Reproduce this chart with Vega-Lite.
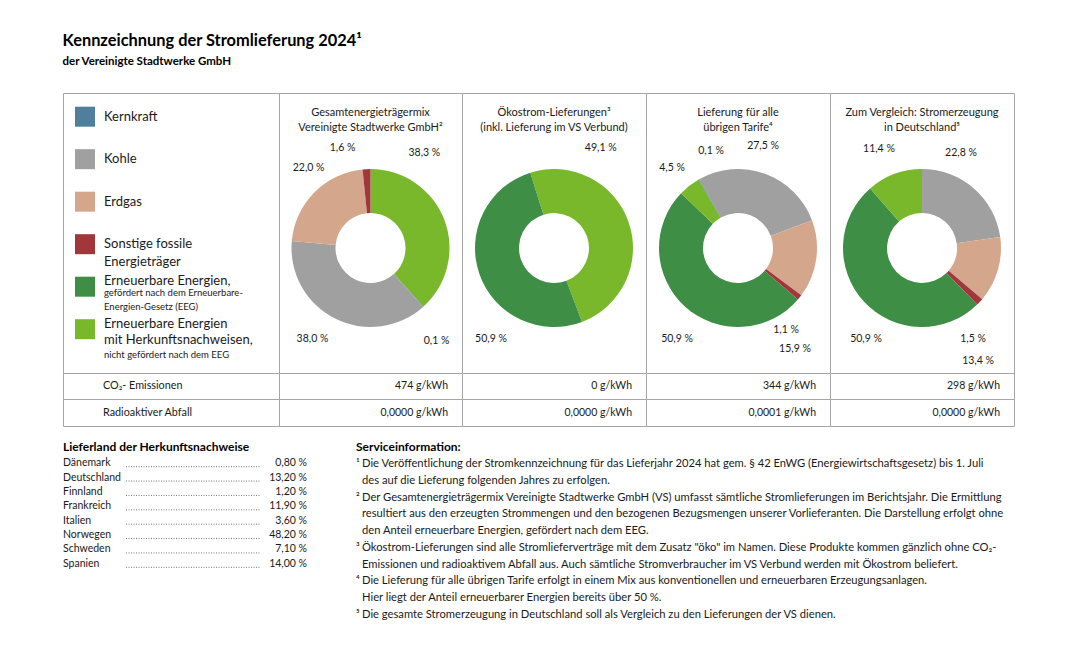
{
  "$schema": "https://vega.github.io/schema/vega-lite/v6.json",
  "background": "white",
  "padding": {"left": 62, "top": 32, "right": 10, "bottom": 10},
  "title": {"text": "Kennzeichnung der Stromlieferung 2024¹", "subtitle": "der Vereinigte Stadtwerke GmbH", "anchor": "start", "fontSize": 16.4, "fontWeight": "bold", "subtitleFontSize": 11.5, "subtitleFontWeight": "bold", "subtitleColor": "#000000", "subtitlePadding": 7, "offset": 25, "color": "#000000"},
  "datasets": {
    "mix": [
      {"spalte": "c1", "cat": "HKN", "anteil": 0.383},
      {"spalte": "c1", "cat": "Kernkraft", "anteil": 0.001},
      {"spalte": "c1", "cat": "Kohle", "anteil": 0.38},
      {"spalte": "c1", "cat": "Erdgas", "anteil": 0.22},
      {"spalte": "c1", "cat": "Sonstige", "anteil": 0.016},
      {"spalte": "c2", "cat": "HKN", "anteil": 0.491},
      {"spalte": "c2", "cat": "EEG", "anteil": 0.509},
      {"spalte": "c3", "cat": "Kohle", "anteil": 0.275},
      {"spalte": "c3", "cat": "Erdgas", "anteil": 0.159},
      {"spalte": "c3", "cat": "Sonstige", "anteil": 0.011},
      {"spalte": "c3", "cat": "EEG", "anteil": 0.509},
      {"spalte": "c3", "cat": "HKN", "anteil": 0.045},
      {"spalte": "c3", "cat": "Kernkraft", "anteil": 0.001},
      {"spalte": "c4", "cat": "Kohle", "anteil": 0.228},
      {"spalte": "c4", "cat": "Erdgas", "anteil": 0.134},
      {"spalte": "c4", "cat": "Sonstige", "anteil": 0.015},
      {"spalte": "c4", "cat": "EEG", "anteil": 0.509},
      {"spalte": "c4", "cat": "HKN", "anteil": 0.114}
    ],
    "kennzahlen": [
      {"spalte": "c1", "co2": 474, "abfall": 0},
      {"spalte": "c2", "co2": 0, "abfall": 0},
      {"spalte": "c3", "co2": 344, "abfall": 0.0001},
      {"spalte": "c4", "co2": 298, "abfall": 0}
    ],
    "legende": [
      {"cat": "Kernkraft", "main": ["Kernkraft"]},
      {"cat": "Kohle", "main": ["Kohle"]},
      {"cat": "Erdgas", "main": ["Erdgas"]},
      {"cat": "Sonstige", "main": ["Sonstige fossile", "Energieträger"]},
      {"cat": "EEG", "main": ["Erneuerbare Energien,"], "sub": ["gefördert nach dem Erneuerbare-", "Energien-Gesetz (EEG)"]},
      {"cat": "HKN", "main": ["Erneuerbare Energien", "mit Herkunftsnachweisen,"], "sub": ["nicht gefördert nach dem EEG"]}
    ],
    "lieferland": [
      {"land": "Dänemark", "anteil": 0.008},
      {"land": "Deutschland", "anteil": 0.132},
      {"land": "Finnland", "anteil": 0.012},
      {"land": "Frankreich", "anteil": 0.119},
      {"land": "Italien", "anteil": 0.036},
      {"land": "Norwegen", "anteil": 0.482},
      {"land": "Schweden", "anteil": 0.071},
      {"land": "Spanien", "anteil": 0.14}
    ],
    "hinweise": [
      {"nr": "¹", "zeile": "Die Veröffentlichung der Stromkennzeichnung für das Lieferjahr 2024 hat gem. § 42 EnWG (Energiewirtschaftsgesetz) bis 1. Juli"},
      {"nr": "", "zeile": "des auf die Lieferung folgenden Jahres zu erfolgen."},
      {"nr": "²", "zeile": "Der Gesamtenergieträgermix Vereinigte Stadtwerke GmbH (VS) umfasst sämtliche Stromlieferungen im Berichtsjahr. Die Ermittlung"},
      {"nr": "", "zeile": "resultiert aus den erzeugten Strommengen und den bezogenen Bezugsmengen unserer Vorlieferanten. Die Darstellung erfolgt ohne"},
      {"nr": "", "zeile": "den Anteil erneuerbare Energien, gefördert nach dem EEG."},
      {"nr": "³", "zeile": "Ökostrom-Lieferungen sind alle Stromlieferverträge mit dem Zusatz \"öko\" im Namen. Diese Produkte kommen gänzlich ohne CO₂-"},
      {"nr": "", "zeile": "Emissionen und radioaktivem Abfall aus.  Auch sämtliche Stromverbraucher im VS Verbund werden mit Ökostrom beliefert."},
      {"nr": "⁴", "zeile": "Die Lieferung für alle übrigen Tarife erfolgt in einem Mix aus konventionellen und erneuerbaren Erzeugungsanlagen."},
      {"nr": "", "zeile": "Hier liegt der Anteil erneuerbarer Energien bereits über 50 %."},
      {"nr": "⁵", "zeile": "Die gesamte Stromerzeugung in Deutschland soll als Vergleich zu den Lieferungen der VS dienen."}
    ]
  },
  "vconcat": [
    {
      "concat": [
        {
          "width": 216, "height": 280,
          "data": {"name": "legende"},
          "encoding": {"y": {"field": "cat", "type": "nominal", "axis": null, "scale": {"type": "point", "domain": ["Kernkraft", "Kohle", "Erdgas", "Sonstige", "EEG", "HKN"], "padding": 0.794, "align": 0.351}}},
          "layer": [
            {"mark": {"type": "square", "size": 400, "x": 22, "opacity": 1}, "encoding": {"color": {"field": "cat", "type": "nominal", "legend": null, "scale": {"domain": ["Kernkraft", "Kohle", "Erdgas", "Sonstige", "EEG", "HKN"], "range": ["#4f7f9b", "#a0a0a0", "#d4a78c", "#a2363a", "#3f8e45", "#79b82b"]}}}},
            {"transform": [{"filter": "indexof(['Kernkraft','Kohle','Erdgas','Sonstige'], datum.cat) >= 0"}], "mark": {"type": "text", "x": 41, "align": "left", "baseline": "middle", "fontSize": 13, "lineHeight": 18}, "encoding": {"text": {"field": "main"}}},
            {"transform": [{"filter": "datum.cat == 'EEG' || datum.cat == 'HKN'"}], "mark": {"type": "text", "x": 41, "align": "left", "baseline": "alphabetic", "dy": -1.5, "fontSize": 13, "lineHeight": 16}, "encoding": {"text": {"field": "main"}}},
            {"transform": [{"filter": "datum.cat == 'EEG'"}], "mark": {"type": "text", "x": 41, "align": "left", "baseline": "alphabetic", "dy": 9, "fontSize": 9.5, "lineHeight": 14}, "encoding": {"text": {"field": "sub"}}},
            {"transform": [{"filter": "datum.cat == 'HKN'"}], "mark": {"type": "text", "x": 41, "align": "left", "baseline": "alphabetic", "dy": 29, "fontSize": 9.5, "lineHeight": 14}, "encoding": {"text": {"field": "sub"}}}
          ]
        },
        {
          "width": 183, "height": 280,
          "layer": [
            {"data": {"values": [{"titel": ["Gesamtenergieträgermix", "Vereinigte Stadtwerke GmbH²"]}]}, "mark": {"type": "text", "y": 19.5, "baseline": "middle", "lineHeight": 15, "fontSize": 11}, "encoding": {"text": {"field": "titel"}}},
            {"data": {"name": "mix"}, "transform": [{"filter": "datum.spalte == 'c1'"}, {"window": [{"op": "row_number", "as": "folge"}]}],
             "mark": {"type": "arc", "innerRadius": 35, "outerRadius": 79},
             "encoding": {"y": {"field": "spalte", "type": "nominal", "axis": null, "scale": {"type": "point", "align": 0.5536}},
                          "theta": {"field": "anteil", "type": "quantitative", "stack": true, "scale": {"domain": [0, 1], "range": [0, 6.2832]}},
                          "color": {"field": "cat", "type": "nominal", "legend": null, "scale": {"domain": ["Kernkraft", "Kohle", "Erdgas", "Sonstige", "EEG", "HKN"], "range": ["#4f7f9b", "#a0a0a0", "#d4a78c", "#a2363a", "#3f8e45", "#79b82b"]}},
                          "order": {"field": "folge", "type": "quantitative"}}},
            {"data": {"name": "mix"}, "transform": [{"filter": "datum.spalte == 'c1'"}, {"window": [{"op": "row_number", "as": "folge"}]}],
             "mark": {"type": "text", "fontSize": 10.5},
             "encoding": {"y": {"field": "spalte", "type": "nominal", "axis": null},
                          "theta": {"field": "anteil", "type": "quantitative", "stack": true, "scale": {"domain": [0, 0.1915, 0.3835, 0.574, 0.874, 0.992, 1], "range": [0, 0.5166, 2.5237, 3.7088, 5.6234, 6.0109, 6.1087]}},
                          "radius": {"field": "anteil", "type": "quantitative", "scale": {"type": "linear", "zero": false, "domain": [0.001, 0.016, 0.22, 0.38, 0.383], "range": [114, 104, 101, 108, 109]}},
                          "detail": {"field": "cat"},
                          "order": {"field": "folge", "type": "quantitative"},
                          "text": {"field": "anteil", "type": "quantitative", "format": ".1%"}}}
          ],
          "resolve": {"scale": {"theta": "independent"}}
        },
        {
          "width": 184, "height": 280,
          "layer": [
            {"data": {"values": [{"titel": ["Ökostrom-Lieferungen³", "(inkl. Lieferung im VS Verbund)"]}]}, "mark": {"type": "text", "y": 19.5, "baseline": "middle", "lineHeight": 15, "fontSize": 11}, "encoding": {"text": {"field": "titel"}}},
            {"data": {"name": "mix"}, "transform": [{"filter": "datum.spalte == 'c2'"}, {"window": [{"op": "row_number", "as": "folge"}]}],
             "mark": {"type": "arc", "innerRadius": 35, "outerRadius": 79},
             "encoding": {"y": {"field": "spalte", "type": "nominal", "axis": null, "scale": {"type": "point", "align": 0.5536}},
                          "theta": {"field": "anteil", "type": "quantitative", "stack": true, "scale": {"domain": [0, 1], "range": [-0.3054, 5.9778]}},
                          "color": {"field": "cat", "type": "nominal", "legend": null, "scale": {"domain": ["Kernkraft", "Kohle", "Erdgas", "Sonstige", "EEG", "HKN"], "range": ["#4f7f9b", "#a0a0a0", "#d4a78c", "#a2363a", "#3f8e45", "#79b82b"]}},
                          "order": {"field": "folge", "type": "quantitative"}}},
            {"data": {"name": "mix"}, "transform": [{"filter": "datum.spalte == 'c2'"}, {"window": [{"op": "row_number", "as": "folge"}]}],
             "mark": {"type": "text", "fontSize": 10.5},
             "encoding": {"y": {"field": "spalte", "type": "nominal", "axis": null},
                          "theta": {"field": "anteil", "type": "quantitative", "stack": true, "scale": {"domain": [0, 0.2455, 0.7455, 1], "range": [0, 0.4363, 3.7472, 5.236]}},
                          "radius": {"field": "anteil", "type": "quantitative", "scale": {"type": "linear", "zero": false, "domain": [0.491, 0.509], "range": [110.5, 110.7]}},
                          "detail": {"field": "cat"},
                          "order": {"field": "folge", "type": "quantitative"},
                          "text": {"field": "anteil", "type": "quantitative", "format": ".1%"}}}
          ],
          "resolve": {"scale": {"theta": "independent"}}
        },
        {
          "width": 184, "height": 280,
          "layer": [
            {"data": {"values": [{"titel": ["Lieferung für alle", "übrigen Tarife⁴"]}]}, "mark": {"type": "text", "y": 19.5, "baseline": "middle", "lineHeight": 15, "fontSize": 11}, "encoding": {"text": {"field": "titel"}}},
            {"data": {"name": "mix"}, "transform": [{"filter": "datum.spalte == 'c3'"}, {"window": [{"op": "row_number", "as": "folge"}]}],
             "mark": {"type": "arc", "innerRadius": 35, "outerRadius": 79},
             "encoding": {"y": {"field": "spalte", "type": "nominal", "axis": null, "scale": {"type": "point", "align": 0.5536}},
                          "theta": {"field": "anteil", "type": "quantitative", "stack": true, "scale": {"domain": [0, 1], "range": [-0.5149, 5.7683]}},
                          "color": {"field": "cat", "type": "nominal", "legend": null, "scale": {"domain": ["Kernkraft", "Kohle", "Erdgas", "Sonstige", "EEG", "HKN"], "range": ["#4f7f9b", "#a0a0a0", "#d4a78c", "#a2363a", "#3f8e45", "#79b82b"]}},
                          "order": {"field": "folge", "type": "quantitative"}}},
            {"data": {"name": "mix"}, "transform": [{"filter": "datum.spalte == 'c3'"}, {"window": [{"op": "row_number", "as": "folge"}]}],
             "mark": {"type": "text", "fontSize": 10.5},
             "encoding": {"y": {"field": "spalte", "type": "nominal", "axis": null},
                          "theta": {"field": "anteil", "type": "quantitative", "stack": true, "scale": {"domain": [0, 0.1375, 0.3545, 0.4395, 0.6995, 0.9765, 0.9995, 1], "range": [-0.3491, 0.2409, 2.6285, 2.611, 3.7315, 5.5938, 6.0126, 6.0214]}},
                          "radius": {"field": "anteil", "type": "quantitative", "scale": {"type": "linear", "zero": false, "domain": [0.001, 0.011, 0.045, 0.159, 0.275, 0.509], "range": [100.7, 95, 103.7, 116, 105, 109.6]}},
                          "detail": {"field": "cat"},
                          "order": {"field": "folge", "type": "quantitative"},
                          "text": {"field": "anteil", "type": "quantitative", "format": ".1%"}}}
          ],
          "resolve": {"scale": {"theta": "independent"}}
        },
        {
          "width": 184, "height": 280,
          "layer": [
            {"data": {"values": [{"titel": ["Zum Vergleich: Stromerzeugung", "in Deutschland⁵"]}]}, "mark": {"type": "text", "y": 19.5, "baseline": "middle", "lineHeight": 15, "fontSize": 11}, "encoding": {"text": {"field": "titel"}}},
            {"data": {"name": "mix"}, "transform": [{"filter": "datum.spalte == 'c4'"}, {"window": [{"op": "row_number", "as": "folge"}]}],
             "mark": {"type": "arc", "innerRadius": 35, "outerRadius": 79},
             "encoding": {"y": {"field": "spalte", "type": "nominal", "axis": null, "scale": {"type": "point", "align": 0.5536}},
                          "theta": {"field": "anteil", "type": "quantitative", "stack": true, "scale": {"domain": [0, 1], "range": [0, 6.2832]}},
                          "color": {"field": "cat", "type": "nominal", "legend": null, "scale": {"domain": ["Kernkraft", "Kohle", "Erdgas", "Sonstige", "EEG", "HKN"], "range": ["#4f7f9b", "#a0a0a0", "#d4a78c", "#a2363a", "#3f8e45", "#79b82b"]}},
                          "order": {"field": "folge", "type": "quantitative"}}},
            {"data": {"name": "mix"}, "transform": [{"filter": "datum.spalte == 'c4'"}, {"window": [{"op": "row_number", "as": "folge"}]}],
             "mark": {"type": "text", "fontSize": 10.5},
             "encoding": {"y": {"field": "spalte", "type": "nominal", "axis": null},
                          "theta": {"field": "anteil", "type": "quantitative", "stack": true, "scale": {"domain": [0, 0.114, 0.295, 0.3695, 0.6315, 0.943, 1], "range": [0, 0.3892, 2.6809, 2.6302, 3.6931, 5.873, 6.1087]}},
                          "radius": {"field": "anteil", "type": "quantitative", "scale": {"type": "linear", "zero": false, "domain": [0.015, 0.114, 0.134, 0.228, 0.509], "range": [104.3, 108, 126, 102.7, 106.8]}},
                          "detail": {"field": "cat"},
                          "order": {"field": "folge", "type": "quantitative"},
                          "text": {"field": "anteil", "type": "quantitative", "format": ".1%"}}}
          ],
          "resolve": {"scale": {"theta": "independent"}}
        },
        {"width": 216, "height": 26, "data": {"values": [{"t": "CO₂- Emissionen"}]}, "mark": {"type": "text", "x": 40, "align": "left", "fontSize": 10.8}, "encoding": {"y": {"field": "t", "type": "nominal", "axis": null}, "text": {"field": "t"}}},
        {"width": 183, "height": 26, "data": {"name": "kennzahlen"}, "transform": [{"filter": "datum.spalte == 'c1'"}], "mark": {"type": "text", "x": "width", "dx": -14, "align": "right"}, "encoding": {"y": {"field": "spalte", "type": "nominal", "axis": null}, "text": {"field": "co2", "type": "quantitative", "format": "$d"}}},
        {"width": 184, "height": 26, "data": {"name": "kennzahlen"}, "transform": [{"filter": "datum.spalte == 'c2'"}], "mark": {"type": "text", "x": "width", "dx": -14, "align": "right"}, "encoding": {"y": {"field": "spalte", "type": "nominal", "axis": null}, "text": {"field": "co2", "type": "quantitative", "format": "$d"}}},
        {"width": 184, "height": 26, "data": {"name": "kennzahlen"}, "transform": [{"filter": "datum.spalte == 'c3'"}], "mark": {"type": "text", "x": "width", "dx": -14, "align": "right"}, "encoding": {"y": {"field": "spalte", "type": "nominal", "axis": null}, "text": {"field": "co2", "type": "quantitative", "format": "$d"}}},
        {"width": 184, "height": 26, "data": {"name": "kennzahlen"}, "transform": [{"filter": "datum.spalte == 'c4'"}], "mark": {"type": "text", "x": "width", "dx": -14, "align": "right"}, "encoding": {"y": {"field": "spalte", "type": "nominal", "axis": null}, "text": {"field": "co2", "type": "quantitative", "format": "$d"}}},
        {"width": 216, "height": 27, "data": {"values": [{"t": "Radioaktiver Abfall"}]}, "mark": {"type": "text", "x": 40, "align": "left", "fontSize": 10.8}, "encoding": {"y": {"field": "t", "type": "nominal", "axis": null}, "text": {"field": "t"}}},
        {"width": 183, "height": 27, "data": {"name": "kennzahlen"}, "transform": [{"filter": "datum.spalte == 'c1'"}], "mark": {"type": "text", "x": "width", "dx": -14, "align": "right"}, "encoding": {"y": {"field": "spalte", "type": "nominal", "axis": null}, "text": {"field": "abfall", "type": "quantitative", "format": "$.4f"}}},
        {"width": 184, "height": 27, "data": {"name": "kennzahlen"}, "transform": [{"filter": "datum.spalte == 'c2'"}], "mark": {"type": "text", "x": "width", "dx": -14, "align": "right"}, "encoding": {"y": {"field": "spalte", "type": "nominal", "axis": null}, "text": {"field": "abfall", "type": "quantitative", "format": "$.4f"}}},
        {"width": 184, "height": 27, "data": {"name": "kennzahlen"}, "transform": [{"filter": "datum.spalte == 'c3'"}], "mark": {"type": "text", "x": "width", "dx": -14, "align": "right"}, "encoding": {"y": {"field": "spalte", "type": "nominal", "axis": null}, "text": {"field": "abfall", "type": "quantitative", "format": "$.4f"}}},
        {"width": 184, "height": 27, "data": {"name": "kennzahlen"}, "transform": [{"filter": "datum.spalte == 'c4'"}], "mark": {"type": "text", "x": "width", "dx": -14, "align": "right"}, "encoding": {"y": {"field": "spalte", "type": "nominal", "axis": null}, "text": {"field": "abfall", "type": "quantitative", "format": "$.4f"}}}
      ],
      "columns": 5,
      "spacing": 0,
      "bounds": "flush"
    },
    {
      "hconcat": [
        {
          "width": 244, "height": 115,
          "view": {"stroke": null},
          "title": {"text": "Lieferland der Herkunftsnachweise", "anchor": "start", "fontSize": 12, "fontWeight": "bold", "offset": 2, "color": "#000000"},
          "data": {"name": "lieferland"},
          "encoding": {"y": {"field": "land", "type": "nominal", "sort": null, "axis": null}},
          "layer": [
            {"mark": {"type": "rule", "yOffset": 3.5, "strokeDash": [1, 1.5], "color": "#555555", "strokeWidth": 0.8}, "encoding": {"x": {"value": 63}, "x2": {"value": 197}}},
            {"mark": {"type": "text", "align": "left", "x": 0}, "encoding": {"text": {"field": "land"}}},
            {"mark": {"type": "text", "align": "right", "x": "width"}, "encoding": {"text": {"field": "anteil", "type": "quantitative", "format": ".2%"}}}
          ]
        },
        {
          "width": 660, "height": 167,
          "view": {"stroke": null},
          "title": {"text": "Serviceinformation:", "anchor": "start", "fontSize": 12, "fontWeight": "bold", "offset": 2, "color": "#000000"},
          "data": {"name": "hinweise"},
          "transform": [{"window": [{"op": "row_number", "as": "idx"}]}],
          "encoding": {"y": {"field": "idx", "type": "ordinal", "axis": null}},
          "layer": [
            {"mark": {"type": "text", "align": "left", "x": 0, "fontSize": 11}, "encoding": {"text": {"field": "nr"}}},
            {"mark": {"type": "text", "align": "left", "x": 6, "fontSize": 11.2}, "encoding": {"text": {"field": "zeile"}}}
          ]
        }
      ],
      "spacing": 49
    }
  ],
  "spacing": 14,
  "config": {
    "font": "Lato",
    "view": {"stroke": "#a6a6a6", "strokeWidth": 1},
    "text": {"font": "Lato", "fontSize": 10.5, "color": "#1a1a1a"},
    "title": {"font": "Lato", "subtitleFont": "Lato", "color": "#1a1a1a"},
    "locale": {"number": {"decimal": ",", "thousands": ".", "grouping": [3], "currency": ["", " g/kWh"], "percent": " %"}}
  }
}
